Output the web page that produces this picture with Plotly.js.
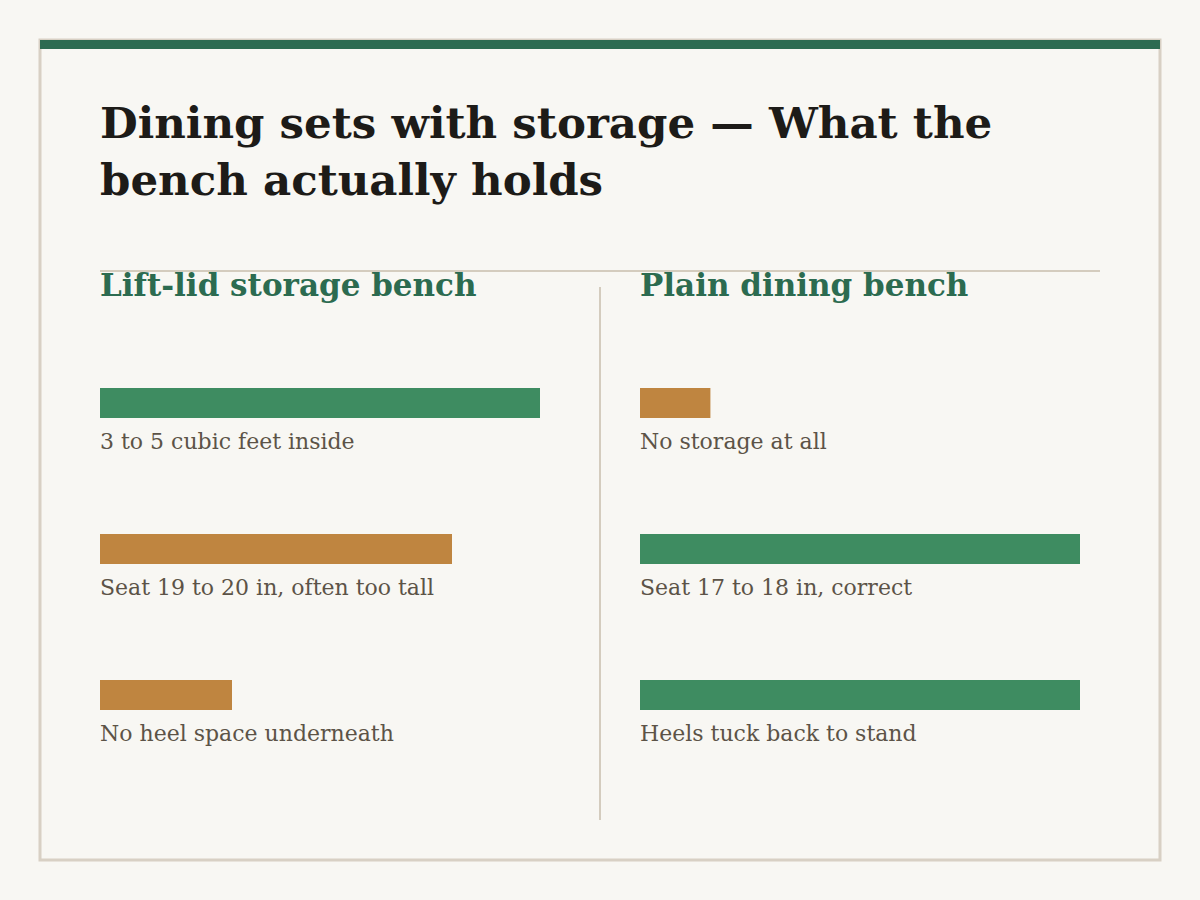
<!DOCTYPE html>
<html>
<head>
<meta charset="utf-8">
<script src="https://cdn.plot.ly/plotly-3.0.1.min.js"></script>
<style>
  html, body { margin: 0; padding: 0; background: #f8f7f3; }
  #chart { width: 1200px; height: 900px; }
</style>
</head>
<body>
<div id="chart"></div>
<script>
// ---- Data ----
const chartTitle = "Dining sets with storage — What the<br>bench actually holds";
const leftHeading = "Lift-lid storage bench";
const rightHeading = "Plain dining bench";

const leftLabels = ["3 to 5 cubic feet inside", "Seat 19 to 20 in, often too tall", "No heel space underneath"];
const leftValues = [100, 80, 30];
const leftVerdict = ["good", "bad", "bad"];

const rightLabels = ["No storage at all", "Seat 17 to 18 in, correct", "Heels tuck back to stand"];
const rightValues = [16, 100, 100];
const rightVerdict = ["bad", "good", "good"];

// ---- Styles ----
const GREEN = "#3e8c61";
const ORANGE = "#bf8540";
const DARKGREEN = "#2c6b50";
const LINE = "#d4ccbe";
const LABEL = "#5c5347";
const SERIF = "'DejaVu Serif', serif";
const colorFor = v => v === "good" ? GREEN : ORANGE;

const W = 1200, H = 900;
const px = x => x / W;
const py = y => 1 - y / H;

const traces = [
  {
    type: "bar", orientation: "h",
    x: leftValues, y: leftLabels,
    xaxis: "x", yaxis: "y",
    marker: { color: leftVerdict.map(colorFor) },
    width: 0.205, hoverinfo: "skip"
  },
  {
    type: "bar", orientation: "h",
    x: rightValues, y: rightLabels,
    xaxis: "x2", yaxis: "y2",
    marker: { color: rightVerdict.map(colorFor) },
    width: 0.205, hoverinfo: "skip"
  }
];

const hiddenX = { range: [0, 100], showgrid: false, zeroline: false, showticklabels: false, showline: false, ticks: "", fixedrange: true };
const yDomain = [py(768), py(330)];
const hiddenY = { type: "category", range: [2.5, -0.5], showgrid: false, zeroline: false, showticklabels: false, showline: false, ticks: "", domain: yDomain, fixedrange: true };

const annotations = [];
annotations.push({
  xref: "paper", yref: "paper", x: px(100), y: py(95), xanchor: "left", yanchor: "top", xshift: -2,
  text: chartTitle, showarrow: false, align: "left",
  font: { family: SERIF, size: 43.5, color: "#1d1b18", weight: 700 }
});
[[leftHeading, 100], [rightHeading, 640]].forEach(([t, x]) => {
  annotations.push({
    xref: "paper", yref: "paper", x: px(x), y: py(285), xanchor: "left", yanchor: "middle", xshift: -2,
    text: "<b>" + t + "</b>", showarrow: false,
    font: { family: SERIF, size: 31, color: DARKGREEN }
  });
});
leftLabels.forEach(l => annotations.push({
  xref: "x", yref: "y", x: 0, y: l, xanchor: "left", yanchor: "middle", yshift: -38, xshift: -2,
  text: l, showarrow: false, font: { family: SERIF, size: 22, color: LABEL }
}));
rightLabels.forEach(l => annotations.push({
  xref: "x2", yref: "y2", x: 0, y: l, xanchor: "left", yanchor: "middle", yshift: -38, xshift: -2,
  text: l, showarrow: false, font: { family: SERIF, size: 22, color: LABEL }
}));

const shapes = [
  { type: "rect", xref: "paper", yref: "paper", x0: px(40), x1: px(1160), y0: py(40), y1: py(860),
    line: { color: "#d8d0c4", width: 3 }, fillcolor: "rgba(0,0,0,0)", layer: "below" },
  { type: "rect", xref: "paper", yref: "paper", x0: px(40), x1: px(1160), y0: py(40), y1: py(49),
    line: { width: 0 }, fillcolor: "#2d6b51", layer: "above" },
  { type: "line", xref: "paper", yref: "paper", x0: px(100), x1: px(1100), y0: py(271), y1: py(271),
    line: { color: LINE, width: 2 }, layer: "below" },
  { type: "line", xref: "paper", yref: "paper", x0: px(600), x1: px(600), y0: py(287), y1: py(820),
    line: { color: LINE, width: 2 }, layer: "below" }
];

const layout = {
  width: W, height: H,
  margin: { l: 0, r: 0, t: 0, b: 0 },
  paper_bgcolor: "#f8f7f3", plot_bgcolor: "rgba(0,0,0,0)",
  showlegend: false,
  xaxis: Object.assign({}, hiddenX, { domain: [px(100), px(540)], anchor: "y" }),
  yaxis: Object.assign({}, hiddenY, { anchor: "x" }),
  xaxis2: Object.assign({}, hiddenX, { domain: [px(640), px(1080)], anchor: "y2" }),
  yaxis2: Object.assign({}, hiddenY, { anchor: "x2" }),
  annotations: annotations,
  shapes: shapes
};

Plotly.newPlot("chart", traces, layout, { displayModeBar: false, staticPlot: true });
</script>
</body>
</html>
